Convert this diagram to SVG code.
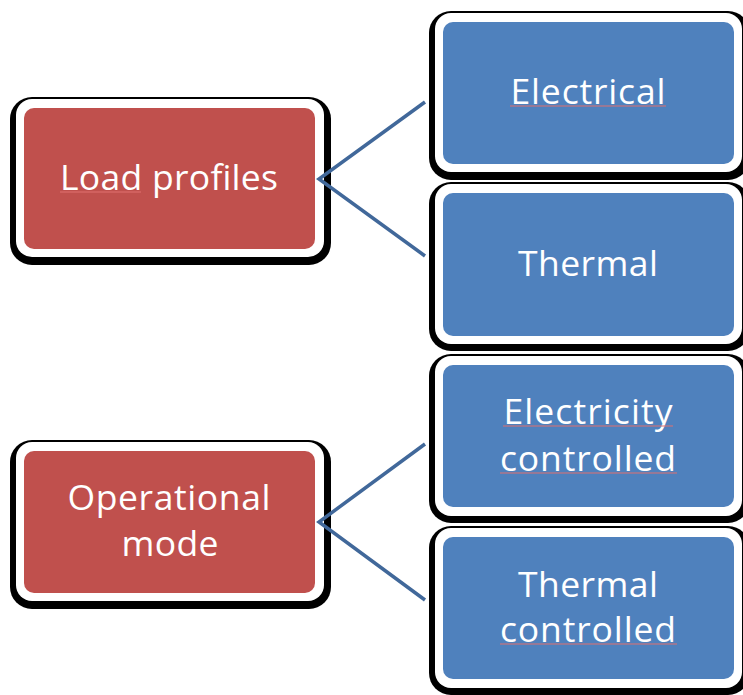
<svg xmlns="http://www.w3.org/2000/svg" width="743" height="695" viewBox="0 0 743 695">
<style>
.sh{fill:#000}
.wh{fill:#fff}
.red{fill:#C0504D}
.blue{fill:#4F81BD}
.t{font-family:"Open Sans","Liberation Sans",sans-serif;font-size:35.5px;fill:#fff;text-anchor:middle}
.sq{stroke:#E07070;stroke-width:1;fill:none}
.c{stroke:#41689A;stroke-width:3.5;fill:none}
</style>
<rect width="743" height="695" fill="#fff"/>
<g id="load-profiles">
<rect class="sh" x="10" y="97" width="321" height="168" rx="22"/>
<rect class="wh" x="16" y="99" width="308" height="158" rx="16"/>
<rect class="red" x="24" y="108" width="291" height="141" rx="10"/>
<text class="t" x="169" y="190" textLength="218">Load profiles</text>
<line class="sq" x1="60" y1="192" x2="141" y2="192"/>
</g>
<g id="electrical">
<rect class="sh" x="429" y="11" width="321" height="169" rx="22"/>
<rect class="wh" x="435" y="13" width="307" height="159" rx="16"/>
<rect class="blue" x="443" y="22" width="291" height="142" rx="10"/>
<text class="t" x="588" y="104" textLength="155">Electrical</text>
<line class="sq" x1="510" y1="106" x2="666" y2="106"/>
</g>
<g id="thermal">
<rect class="sh" x="429" y="182" width="321" height="169" rx="22"/>
<rect class="wh" x="435" y="184" width="307" height="160" rx="16"/>
<rect class="blue" x="443" y="193" width="291" height="143" rx="10"/>
<text class="t" x="588" y="276" textLength="140">Thermal</text>
</g>
<g id="operational-mode">
<rect class="sh" x="10" y="440" width="321" height="169" rx="22"/>
<rect class="wh" x="16" y="442" width="308" height="159" rx="16"/>
<rect class="red" x="24" y="451" width="291" height="142" rx="10"/>
<text class="t" x="169" y="510" textLength="203">Operational</text>
<text class="t" x="170" y="556" textLength="97">mode</text>
</g>
<g id="electricity-controlled">
<rect class="sh" x="429" y="354" width="321" height="169" rx="22"/>
<rect class="wh" x="435" y="356" width="307" height="160" rx="16"/>
<rect class="blue" x="443" y="365" width="291" height="142" rx="10"/>
<text class="t" x="588" y="424" textLength="169">Electricity</text>
<text class="t" x="588" y="471" textLength="176">controlled</text>
<line class="sq" x1="503" y1="426" x2="673" y2="426"/>
<line class="sq" x1="500" y1="473" x2="677" y2="473"/>
</g>
<g id="thermal-controlled">
<rect class="sh" x="429" y="526" width="321" height="169" rx="22"/>
<rect class="wh" x="435" y="528" width="307" height="160" rx="16"/>
<rect class="blue" x="443" y="537" width="291" height="142" rx="10"/>
<text class="t" x="588" y="597" textLength="140">Thermal</text>
<text class="t" x="588" y="642" textLength="176">controlled</text>
<line class="sq" x1="500" y1="644" x2="677" y2="644"/>
</g>
<g id="connectors">
<polyline class="c" points="425,102 319,179 425,256"/>
<polyline class="c" points="425,444 319,522 425,600"/>
</g>
</svg>
